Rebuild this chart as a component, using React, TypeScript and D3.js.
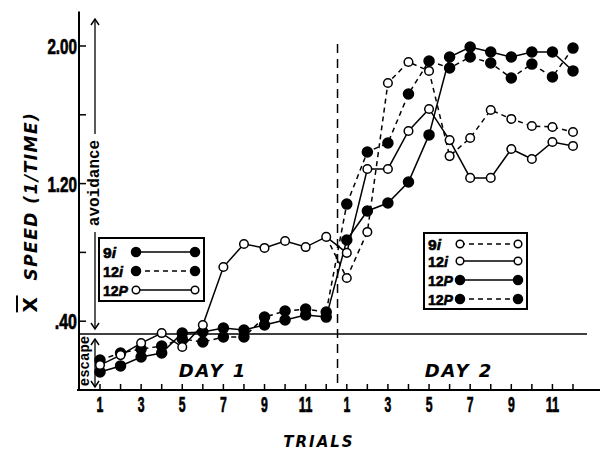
import React, { useRef, useEffect } from 'react';
import * as d3 from 'd3';

const W = 601;
const H = 451;

// trials per day (day 2 is plotted after day 1 on the same axis)
const trials = [1, 2, 3, 4, 5, 6, 7, 8, 9, 10, 11, 12];
const tickLabels = [1, 3, 5, 7, 9, 11];
const yTicks = [0.4, 0.8, 1.2, 1.6, 2.0];
const yLabels = ['.40', '', '1.20', '', '2.00'];

// day 1 groups
const d1_9i = [0.105, 0.14, 0.192, 0.215, 0.331, 0.337, 0.36, 0.349, 0.378, 0.407, 0.436, 0.424];
const d1_12i = [0.174, 0.215, 0.238, 0.256, 0.297, 0.279, 0.308, 0.308, 0.424, 0.459, 0.471, 0.453];
const d1_12P = [0.145, 0.203, 0.273, 0.331, 0.25, 0.378, 0.715, 0.849, 0.826, 0.866, 0.831, 0.89];

// day 2 groups
const d2_9i = [0.651, 0.919, 1.785, 1.907, 1.855, 1.36, 1.465, 1.628, 1.576, 1.535, 1.529, 1.5];
const d2_12i = [0.797, 1.285, 1.285, 1.506, 1.634, 1.453, 1.233, 1.233, 1.401, 1.343, 1.442, 1.419];
const d2_12P = [0.872, 1.041, 1.087, 1.209, 1.483, 1.936, 1.994, 1.965, 1.936, 1.965, 1.965, 1.855];
const d2_12Pb = [1.081, 1.384, 1.436, 1.721, 1.913, 1.872, 1.936, 1.901, 1.814, 1.895, 1.82, 1.988];

const escapeLevel = 0.326;

const series = [
  { key: 'd1_9i', day: 1, values: d1_9i, filled: true, dashed: false },
  { key: 'd1_12i', day: 1, values: d1_12i, filled: true, dashed: true },
  { key: 'd1_12P', day: 1, values: d1_12P, filled: false, dashed: false },
  { key: 'd2_9i', day: 2, values: d2_9i, filled: false, dashed: true },
  { key: 'd2_12i', day: 2, values: d2_12i, filled: false, dashed: false },
  { key: 'd2_12P', day: 2, values: d2_12P, filled: true, dashed: false },
  { key: 'd2_12Pb', day: 2, values: d2_12Pb, filled: true, dashed: true },
];

// lines that cross from the last trial of day 1 to the first of day 2
const connectors = [
  { from: d1_9i, to: d2_12P, dashed: false },
  { from: d1_12i, to: d2_12Pb, dashed: true },
  { from: d1_12P, to: d2_12i, dashed: false },
  { from: d1_12P, to: d2_9i, dashed: true },
];

const legend1 = [
  { num: '9', let: 'i', filled: true, dashed: false },
  { num: '12', let: 'i', filled: true, dashed: true },
  { num: '12', let: 'P', filled: false, dashed: false },
];
const legend2 = [
  { num: '9', let: 'i', filled: false, dashed: true },
  { num: '12', let: 'i', filled: false, dashed: false },
  { num: '12', let: 'P', filled: true, dashed: false },
  { num: '12', let: 'P', filled: true, dashed: true },
];

const sans = "'Liberation Sans',Arial,sans-serif";
const wide = "'DejaVu Sans',Verdana,sans-serif";
const mono = "'Liberation Mono','DejaVu Sans Mono',monospace";

const App = () => {
  const ref = useRef(null);

  useEffect(() => {
    const svg = d3.select(ref.current);
    svg.selectAll('*').remove();

    const x = d3.scaleLinear().domain([1, 24]).range([100, 573]);
    const y = d3.scaleLinear().domain([0, 2]).range([390, 46]);
    const pos = (day, t) => (day === 1 ? t : t + 12);
    const dash = '5,4';

    // condensed heavy text, squeezed with textLength
    const cond = (px, py, str, anchor, size, len) =>
      svg.append('text').attr('x', px).attr('y', py).attr('text-anchor', anchor)
        .attr('font-family', sans).attr('font-weight', 'bold').attr('font-size', size)
        .attr('textLength', len).attr('lengthAdjust', 'spacingAndGlyphs')
        .attr('stroke', '#000').attr('stroke-width', 0.7)
        .text(str);

    // axes
    svg.append('line').attr('x1', 79).attr('x2', 79).attr('y1', y(2.2)).attr('y2', y(0))
      .attr('stroke', '#000').attr('stroke-width', 2);
    svg.append('line').attr('x1', 77).attr('x2', 600).attr('y1', y(0)).attr('y2', y(0))
      .attr('stroke', '#000').attr('stroke-width', 2);
    svg.append('line').attr('x1', 79).attr('x2', 587).attr('y1', y(escapeLevel)).attr('y2', y(escapeLevel))
      .attr('stroke', '#000').attr('stroke-width', 1.5);

    yTicks.forEach((v, i) => {
      svg.append('line').attr('x1', 79).attr('x2', 86).attr('y1', y(v)).attr('y2', y(v))
        .attr('stroke', '#000').attr('stroke-width', 1.5);
      if (yLabels[i]) cond(77, y(v) + 8, yLabels[i], 'end', 22, yLabels[i].length * 7.4);
    });

    d3.range(1, 25).forEach(p => {
      svg.append('line').attr('x1', x(p)).attr('x2', x(p)).attr('y1', y(0)).attr('y2', y(0) - 6)
        .attr('stroke', '#000').attr('stroke-width', 1.5);
    });
    [1, 2].forEach(day => {
      tickLabels.forEach(t => {
        const s = String(t);
        cond(x(pos(day, t)), 412, s, 'middle', 22, s.length * 6.8);
      });
    });

    // day divider
    svg.append('line').attr('x1', x(12.55)).attr('x2', x(12.55)).attr('y1', 44).attr('y2', y(0))
      .attr('stroke', '#000').attr('stroke-width', 1.5).attr('stroke-dasharray', '9,6');

    // titles
    svg.append('text').attr('x', 213).attr('y', 377).attr('text-anchor', 'middle')
      .attr('font-family', wide).attr('font-weight', 'bold').attr('font-style', 'italic')
      .attr('font-size', 18).attr('letter-spacing', 2).text('DAY 1');
    svg.append('text').attr('x', 459).attr('y', 377).attr('text-anchor', 'middle')
      .attr('font-family', wide).attr('font-weight', 'bold').attr('font-style', 'italic')
      .attr('font-size', 18).attr('letter-spacing', 2).text('DAY 2');
    svg.append('text').attr('x', 319).attr('y', 447).attr('text-anchor', 'middle')
      .attr('font-family', wide).attr('font-weight', 'bold').attr('font-style', 'italic')
      .attr('font-size', 15).attr('letter-spacing', 2).text('TRIALS');

    const yt = svg.append('text').attr('transform', 'translate(37,212) rotate(-90)')
      .attr('text-anchor', 'middle').attr('font-family', wide).attr('font-weight', 'bold')
      .attr('font-size', 17).attr('letter-spacing', 1.5);
    yt.append('tspan').attr('text-decoration', 'overline').attr('font-size', 20).text('X');
    yt.append('tspan').attr('font-style', 'italic').text('\u00a0\u00a0SPEED (1/TIME)');

    // avoidance / escape arrows
    const ax = 95;
    svg.append('line').attr('x1', ax).attr('x2', ax).attr('y1', 20).attr('y2', 134)
      .attr('stroke', '#000').attr('stroke-width', 1.3);
    svg.append('line').attr('x1', ax).attr('x2', ax).attr('y1', 232).attr('y2', 328)
      .attr('stroke', '#000').attr('stroke-width', 1.3);
    svg.append('line').attr('x1', ax).attr('x2', ax).attr('y1', 339).attr('y2', 387)
      .attr('stroke', '#000').attr('stroke-width', 1.3);
    const head = (px, py, dir) => {
      svg.append('path')
        .attr('d', `M${px - 4},${py + dir * 6}L${px},${py}L${px + 4},${py + dir * 6}`)
        .attr('fill', 'none').attr('stroke', '#000').attr('stroke-width', 1.5);
    };
    head(ax, 19, 1);
    head(ax, 329, -1);
    head(ax, 339, 1);
    head(ax, 387, -1);
    svg.append('text').attr('transform', `translate(${ax + 4},183) rotate(-90)`)
      .attr('text-anchor', 'middle').attr('font-family', mono)
      .attr('font-weight', 'bold').attr('font-size', 16).text('avoidance');
    svg.append('text').attr('transform', `translate(89,361) rotate(-90)`)
      .attr('text-anchor', 'middle').attr('font-family', mono)
      .attr('font-weight', 'bold').attr('font-size', 14).text('escape');

    // data lines
    const line = d3.line().x(d => d[0]).y(d => d[1]);
    connectors.forEach(c => {
      svg.append('path')
        .attr('d', line([[x(12), y(c.from[11])], [x(13), y(c.to[0])]]))
        .attr('fill', 'none').attr('stroke', '#000').attr('stroke-width', 1.5)
        .attr('stroke-dasharray', c.dashed ? dash : null);
    });
    series.forEach(s => {
      svg.append('path')
        .attr('d', line(s.values.map((v, i) => [x(pos(s.day, trials[i])), y(v)])))
        .attr('fill', 'none').attr('stroke', '#000').attr('stroke-width', 1.5)
        .attr('stroke-dasharray', s.dashed ? dash : null);
    });
    series.forEach(s => {
      svg.append('g').selectAll('circle').data(s.values).join('circle')
        .attr('cx', (v, i) => x(pos(s.day, trials[i])))
        .attr('cy', v => y(v))
        .attr('r', s.filled ? 5 : 4.3)
        .attr('fill', s.filled ? '#000' : '#fff')
        .attr('stroke', '#000').attr('stroke-width', 1.5);
    });

    // legends
    const drawLegend = (items, bx, by, bw, bh, rowY, sx1, sx2, lx, fs) => {
      svg.append('rect').attr('x', bx).attr('y', by).attr('width', bw).attr('height', bh)
        .attr('fill', '#fff').attr('stroke', '#000').attr('stroke-width', 2);
      items.forEach((it, i) => {
        const ry = rowY[i];
        const len = it.num.length * 7 + (it.let === 'P' ? 11 : 6);
        const t = svg.append('text').attr('x', lx).attr('y', ry + 5.5)
          .attr('font-family', sans).attr('font-weight', 'bold').attr('font-size', fs)
          .attr('textLength', len).attr('lengthAdjust', 'spacingAndGlyphs')
          .attr('stroke', '#000').attr('stroke-width', 0.6);
        t.append('tspan').text(it.num);
        t.append('tspan').attr('font-style', 'italic').text(it.let);
        svg.append('line').attr('x1', sx1).attr('x2', sx2).attr('y1', ry).attr('y2', ry)
          .attr('stroke', '#000').attr('stroke-width', 1.5)
          .attr('stroke-dasharray', it.dashed ? dash : null);
        [sx1, sx2].forEach(cx => {
          svg.append('circle').attr('cx', cx).attr('cy', ry).attr('r', it.filled ? 4.5 : 3.8)
            .attr('fill', it.filled ? '#000' : '#fff').attr('stroke', '#000').attr('stroke-width', 1.5);
        });
      });
    };
    drawLegend(legend1, 99, 238, 105, 63, [252, 271, 290], 136, 195, 103, 15);
    drawLegend(legend2, 424, 233, 103, 76, [244, 261, 280, 299], 460, 518, 428, 15);
  }, []);

  return <svg ref={ref} width={W} height={H} style={{ position: 'absolute', left: 0, top: 0, background: '#fff' }} />;
};

export default App;
